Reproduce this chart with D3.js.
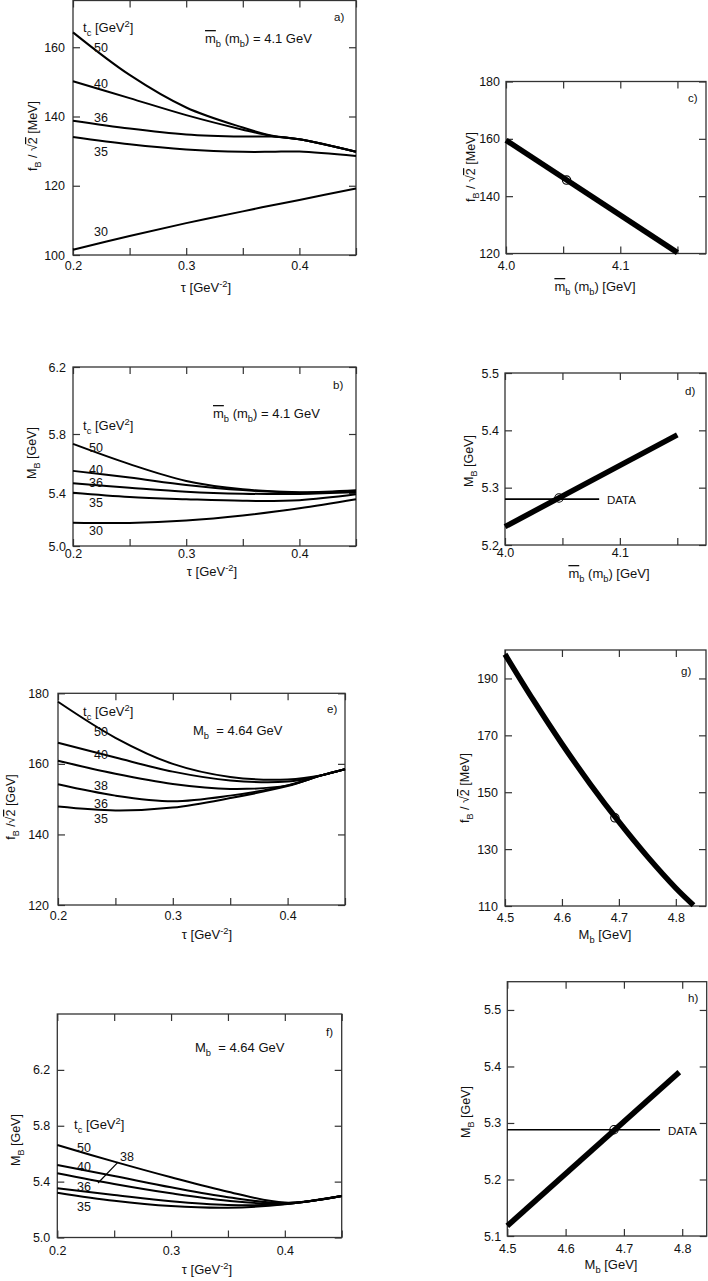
<!DOCTYPE html>
<html><head><meta charset="utf-8">
<script src="https://cdn.jsdelivr.net/npm/d3@7"></script>
<style>
body{margin:0;background:#fff}
text{font-family:"Liberation Sans",Arial,Helvetica,sans-serif;fill:#111}
</style>
</head><body>
<svg id="chart" width="708" height="1281"></svg>
<script>
// ---------------- DATA ----------------
// panel a: f_B/sqrt2 [MeV] vs tau, mb(mb)=4.1 GeV
const tauA = [0.2, 0.25, 0.3, 0.35, 0.375, 0.4, 0.45];
const tcA = ["50", "40", "36", "35", "30"];
const fA50 = [164.3, 152.0, 142.6, 136.8, 134.5, 133.4, 129.8];
const fA40 = [150.2, 145.3, 140.4, 136.2, 134.4, 133.4, 129.8];
const fA36 = [138.8, 136.5, 134.8, 134.2, 134.2, 133.4, 129.8];
const fA35 = [134.1, 132.0, 130.5, 129.8, 129.8, 129.9, 128.6];
const fA30 = [101.5, 105.5, 109.2, 112.6, 114.3, 115.9, 119.2];

// panel b: M_B [GeV] vs tau, mb(mb)=4.1 GeV
const tauB = [0.2, 0.25, 0.3, 0.35, 0.4, 0.45];
const tcB = ["50", "40", "36", "35", "30"];
const mB50 = [5.733, 5.596, 5.482, 5.425, 5.405, 5.418];
const mB40 = [5.550, 5.505, 5.455, 5.420, 5.402, 5.413];
const mB36 = [5.466, 5.436, 5.409, 5.395, 5.393, 5.407];
const mB35 = [5.402, 5.370, 5.353, 5.341, 5.346, 5.390];
const mB30 = [5.176, 5.174, 5.192, 5.230, 5.285, 5.353];

// panel c: f_B/sqrt2 vs mb(mb)
const mbC = [4.0, 4.15];
const fC = [159.5, 120.3];
const pointC = [4.053, 145.6];

// panel d: M_B vs mb(mb)
const mbD = [4.0, 4.15];
const mD = [5.232, 5.392];
const pointD = [4.047, 5.282];
const dataD = {value: 5.28, from: 4.0, to: 4.082};

// panel e: f_B/sqrt2 vs tau, M_b = 4.64 GeV
const tauE = [0.2, 0.25, 0.3, 0.35, 0.4, 0.43, 0.45];
const tcE = ["50", "40", "38", "36", "35"];
const fE50 = [177.6, 167.4, 160.0, 156.3, 155.6, 156.8, 158.5];
const fE40 = [166.0, 161.8, 157.8, 155.3, 155.0, 156.8, 158.5];
const fE38 = [160.9, 157.2, 154.3, 152.9, 153.9, 156.8, 158.5];
const fE36 = [154.2, 151.0, 149.4, 151.0, 153.9, 156.8, 158.5];
const fE35 = [147.9, 146.8, 147.6, 150.3, 153.7, 156.8, 158.5];

// panel f: M_B vs tau, M_b = 4.64 GeV
const tauF = [0.2, 0.25, 0.3, 0.35, 0.4, 0.45];
const tcF = ["50", "40", "38", "36", "35"];
const mF50 = [5.662, 5.543, 5.431, 5.328, 5.250, 5.297];
const mF40 = [5.519, 5.440, 5.359, 5.288, 5.246, 5.297];
const mF38 = [5.460, 5.383, 5.316, 5.263, 5.242, 5.297];
const mF36 = [5.352, 5.304, 5.259, 5.233, 5.240, 5.297];
const mF35 = [5.321, 5.263, 5.225, 5.213, 5.238, 5.297];
const leaderF = [[0.2534, 5.540], [0.2358, 5.390]];

// panel g: f_B/sqrt2 vs M_b (pole)
const mbG = [4.5, 4.55, 4.6, 4.65, 4.7, 4.75, 4.8, 4.831];
const fG = [198.5, 182.3, 167.0, 152.8, 139.6, 127.4, 116.3, 110.3];
const pointG = [4.693, 141.0];

// panel h: M_B vs M_b
const mbH = [4.5, 4.795];
const mH = [5.118, 5.390];
const pointH = [4.683, 5.288];
const dataH = {value: 5.288, from: 4.5, to: 4.762};

// ---------------- DRAWING ----------------
const svg = d3.select("#chart");
const FRAME = "#333";

function rich(g, x, y, segs, o = {}) {
  const fs = o.size || 12;
  const t = g.append("text").attr("x", x).attr("y", y)
    .attr("font-size", fs).attr("text-anchor", o.anchor || "start")
    .style("white-space", "pre");
  if (o.rotate) t.attr("transform", `rotate(-90,${x},${y})`);
  let shift = 0;
  segs.forEach(([s, k]) => {
    const ts = t.append("tspan").text(s);
    let target = 0;
    if (k === "sub") target = fs * 0.32;
    if (k === "sup") target = -fs * 0.42;
    ts.attr("dy", target - shift);
    shift = target;
    if (k === "sub" || k === "sup") ts.attr("font-size", fs * 0.72);
    if (k === "over") ts.attr("text-decoration", "overline");
  });
  return t;
}

function panel(cfg) {
  const x = d3.scaleLinear().domain(cfg.xd).range(cfg.xr);
  const y = d3.scaleLinear().domain(cfg.yd).range(cfg.yr);
  const x0 = cfg.xr[0], x1 = cfg.xr[cfg.xr.length - 1];
  const yB = cfg.yr[0], yT = cfg.yr[cfg.yr.length - 1];
  const g = svg.append("g");
  const has = (arr, v) => arr.some(l => Math.abs(l - v) < 1e-9);
  const fx = v => has(cfg.xl, v) ? d3.format(cfg.xf)(v) : "";
  const fy = v => has(cfg.yl, v) ? d3.format(cfg.yf)(v) : "";
  const pad = cfg.pad || 7;
  const xpad = cfg.xpad == null ? 6 : cfg.xpad;
  const axes = [
    g.append("g").attr("transform", `translate(0,${yB})`)
      .call(d3.axisBottom(x).tickValues(cfg.xt).tickFormat(fx).tickSize(-7).tickPadding(xpad)),
    g.append("g").attr("transform", `translate(0,${yT})`)
      .call(d3.axisTop(x).tickValues(cfg.xt).tickFormat("").tickSize(-7)),
    g.append("g").attr("transform", `translate(${x0},0)`)
      .call(d3.axisLeft(y).tickValues(cfg.yt).tickFormat(fy).tickSize(-7).tickPadding(pad)),
    g.append("g").attr("transform", `translate(${x1},0)`)
      .call(d3.axisRight(y).tickValues(cfg.yt).tickFormat("").tickSize(-7))
  ];
  axes.forEach(a => {
    a.select(".domain").remove();
    a.selectAll("line").attr("stroke", FRAME).attr("stroke-width", 1.2);
    a.selectAll("text").attr("font-size", 12.5).attr("fill", "#111")
      .attr("font-family", '"Liberation Sans",Arial,sans-serif');
  });
  g.append("rect").attr("x", x0).attr("y", yT).attr("width", x1 - x0).attr("height", yB - yT)
    .attr("fill", "none").attr("stroke", FRAME).attr("stroke-width", 1.3);

  const line = d3.line().x(d => x(d[0])).y(d => y(d[1]));
  (cfg.series || []).forEach(s => {
    g.append("path").datum(d3.zip(s.xs, s.ys))
      .attr("d", line.curve(s.curve || d3.curveCatmullRom.alpha(0.5)))
      .attr("fill", "none").attr("stroke", "#000").attr("stroke-width", s.w || 2)
      .attr("stroke-linecap", "butt");
  });
  if (cfg.data) {
    g.append("line").attr("x1", x(cfg.data.from)).attr("x2", x(cfg.data.to))
      .attr("y1", y(cfg.data.value)).attr("y2", y(cfg.data.value))
      .attr("stroke", "#000").attr("stroke-width", 1.6);
  }
  if (cfg.point) {
    g.append("circle").attr("cx", x(cfg.point[0])).attr("cy", y(cfg.point[1])).attr("r", 4.2)
      .attr("fill", "none").attr("stroke", "#000").attr("stroke-width", 1.1);
  }
  if (cfg.leader) {
    g.append("line").attr("x1", x(cfg.leader[0][0])).attr("y1", y(cfg.leader[0][1]))
      .attr("x2", x(cfg.leader[1][0])).attr("y2", y(cfg.leader[1][1]))
      .attr("stroke", "#000").attr("stroke-width", 1.2);
  }
  (cfg.texts || []).forEach(t => rich(g, t.x, t.y, t.segs, t.o || {}));
  return g;
}

const tauTicks = [0.2, 0.25, 0.3, 0.35, 0.4, 0.45];
const tauLabels = [0.2, 0.3, 0.4];
const segTau = [["τ [GeV"], ["-2", "sup"], ["]"]];
const segTc = [["t"], ["c", "sub"], [" [GeV"], ["2", "sup"], ["]"]];
const segFB = [["f"], ["B", "sub"], [" / √"], ["2", "over"], [" [MeV]"]];
const segFBe = [["f"], ["B", "sub"], [" /√"], ["2", "over"], [" [GeV]"]];
const segMB = [["M"], ["B", "sub"], [" [GeV]"]];
const segMbar = [["m", "over"], ["b", "sub"], [" (m"], ["b", "sub"], [") [GeV]"]];
const segMbar41 = [["m", "over"], ["b", "sub"], [" (m"], ["b", "sub"], [") = 4.1 GeV"]];
const segMb464 = [["M"], ["b", "sub"], ["  = 4.64 GeV"]];
const segMb = [["M"], ["b", "sub"], [" [GeV]"]];
const num = (s, x, y) => ({x, y, segs: [[s]], o: {size: 12.5}});
const big = {size: 13};
const rot = {size: 12.5, anchor: "middle", rotate: true};
const mid = {size: 13, anchor: "middle"};
const small = {size: 11.5};

// a
panel({
  xd: [0.2, 0.45], xr: [73, 356], yd: [100, 173.5], yr: [255, 0.5],
  xt: tauTicks, xl: tauLabels, xf: ".1f", yt: [100, 120, 140, 160], yl: [100, 120, 140, 160], yf: "d", pad: 8, xpad: 6.5,
  series: [fA50, fA40, fA36, fA35, fA30].map(v => ({xs: tauA, ys: v})),
  texts: [
    {x: 83, y: 32, segs: segTc, o: big},
    num(tcA[0], 94, 52), num(tcA[1], 94, 88), num(tcA[2], 94, 122), num(tcA[3], 94, 156), num(tcA[4], 94, 236),
    {x: 205, y: 43, segs: segMbar41, o: big},
    {x: 334, y: 21, segs: [["a)"]], o: small},
    {x: 37, y: 136, segs: segFB, o: rot},
    {x: 206, y: 292, segs: segTau, o: mid}
  ]
});

// b
panel({
  xd: [0.2, 0.45], xr: [73, 356], yd: [5.0, 5.4, 5.8, 6.2], yr: [546, 493, 434, 367],
  xt: tauTicks, xl: tauLabels, xf: ".1f", yt: [5.0, 5.4, 5.8, 6.2], yl: [5.0, 5.4, 5.8, 6.2], yf: ".1f", xpad: 3.5,
  series: [mB50, mB40, mB36, mB35, mB30].map(v => ({xs: tauB, ys: v})),
  texts: [
    {x: 83, y: 430, segs: segTc, o: big},
    num(tcB[0], 89, 452), num(tcB[1], 89, 474), num(tcB[2], 89, 487), num(tcB[3], 89, 507), num(tcB[4], 89, 535),
    {x: 213, y: 418, segs: segMbar41, o: big},
    {x: 333, y: 389, segs: [["b)"]], o: small},
    {x: 36, y: 453, segs: segMB, o: rot},
    {x: 212, y: 576, segs: segTau, o: mid}
  ]
});

// c
panel({
  xd: [4.0, 4.175], xr: [506, 706], yd: [120, 180], yr: [253.5, 81.5],
  xt: [4.0, 4.05, 4.1, 4.15], xl: [4.0, 4.1], xf: ".1f", yt: [120, 140, 160, 180], yl: [120, 140, 160, 180], yf: "d", pad: 6, xpad: 8,
  series: [{xs: mbC, ys: fC, w: 5.5, curve: d3.curveLinear}],
  point: pointC,
  texts: [
    {x: 688, y: 102, segs: [["c)"]], o: small},
    {x: 475, y: 167, segs: segFB, o: rot},
    {x: 595, y: 291, segs: segMbar, o: mid}
  ]
});

// d
panel({
  xd: [4.0, 4.175], xr: [505, 706], yd: [5.2, 5.5], yr: [545, 373],
  xt: [4.0, 4.05, 4.1, 4.15], xl: [4.0, 4.1], xf: ".1f", yt: [5.2, 5.3, 5.4, 5.5], yl: [5.2, 5.3, 5.4, 5.5], yf: ".1f", pad: 6, xpad: 3,
  series: [{xs: mbD, ys: mD, w: 5.5, curve: d3.curveLinear}],
  point: pointD, data: dataD,
  texts: [
    {x: 685, y: 395, segs: [["d)"]], o: small},
    {x: 607, y: 504, segs: [["DATA"]], o: small},
    {x: 473, y: 461, segs: segMB, o: rot},
    {x: 609, y: 578, segs: segMbar, o: mid}
  ]
});

// e
panel({
  xd: [0.2, 0.45], xr: [58, 345], yd: [120, 180], yr: [905, 693.3],
  xt: tauTicks, xl: tauLabels, xf: ".1f", yt: [120, 140, 160, 180], yl: [120, 140, 160, 180], yf: "d", pad: 9, xpad: 6.5,
  series: [fE50, fE40, fE38, fE36, fE35].map(v => ({xs: tauE, ys: v})),
  texts: [
    {x: 83, y: 716, segs: segTc, o: big},
    num(tcE[0], 94, 736), num(tcE[1], 94, 759), num(tcE[2], 94, 790), num(tcE[3], 94, 808), num(tcE[4], 94, 823),
    {x: 193, y: 735, segs: segMb464, o: big},
    {x: 327, y: 713, segs: [["e)"]], o: small},
    {x: 15, y: 807, segs: segFBe, o: rot},
    {x: 207, y: 939, segs: segTau, o: mid}
  ]
});

// f
panel({
  xd: [0.2, 0.45], xr: [57.3, 341.7], yd: [5.0, 6.6], yr: [1237.5, 1014],
  xt: tauTicks, xl: tauLabels, xf: ".1f", yt: [5.0, 5.4, 5.8, 6.2], yl: [5.0, 5.4, 5.8, 6.2], yf: ".1f", pad: 7, xpad: 8.5,
  series: [mF50, mF40, mF38, mF36, mF35].map(v => ({xs: tauF, ys: v})),
  leader: leaderF,
  texts: [
    {x: 74, y: 1129, segs: segTc, o: big},
    num(tcF[0], 77, 1152), num(tcF[1], 77, 1171), num(tcF[2], 120, 1161), num(tcF[3], 77, 1191), num(tcF[4], 77, 1211),
    {x: 195, y: 1052, segs: segMb464, o: big},
    {x: 326, y: 1036, segs: [["f)"]], o: small},
    {x: 20, y: 1140, segs: segMB, o: rot},
    {x: 207, y: 1274, segs: segTau, o: mid}
  ]
});

// g
panel({
  xd: [4.5, 4.853], xr: [505, 706], yd: [110, 200], yr: [906, 650],
  xt: [4.5, 4.6, 4.7, 4.8], xl: [4.5, 4.6, 4.7, 4.8], xf: ".1f", yt: [110, 130, 150, 170, 190], yl: [110, 130, 150, 170, 190], yf: "d", pad: 7, xpad: 7,
  series: [{xs: mbG, ys: fG, w: 5.5}],
  point: pointG,
  texts: [
    {x: 681, y: 675, segs: [["g)"]], o: small},
    {x: 469, y: 788, segs: segFB, o: rot},
    {x: 605, y: 939, segs: segMb, o: mid}
  ]
});

// h
panel({
  xd: [4.5, 4.842], xr: [507.3, 706.7], yd: [5.1, 5.55], yr: [1236, 981.7],
  xt: [4.5, 4.6, 4.7, 4.8], xl: [4.5, 4.6, 4.7, 4.8], xf: ".1f", yt: [5.1, 5.2, 5.3, 5.4, 5.5], yl: [5.1, 5.2, 5.3, 5.4, 5.5], yf: ".1f", pad: 6, xpad: 8,
  series: [{xs: mbH, ys: mH, w: 5.5, curve: d3.curveLinear}],
  point: pointH, data: dataH,
  texts: [
    {x: 688, y: 1002, segs: [["h)"]], o: small},
    {x: 668, y: 1135, segs: [["DATA"]], o: small},
    {x: 470, y: 1112, segs: segMB, o: rot},
    {x: 611, y: 1269, segs: segMb, o: mid}
  ]
});
</script>
</body></html>
